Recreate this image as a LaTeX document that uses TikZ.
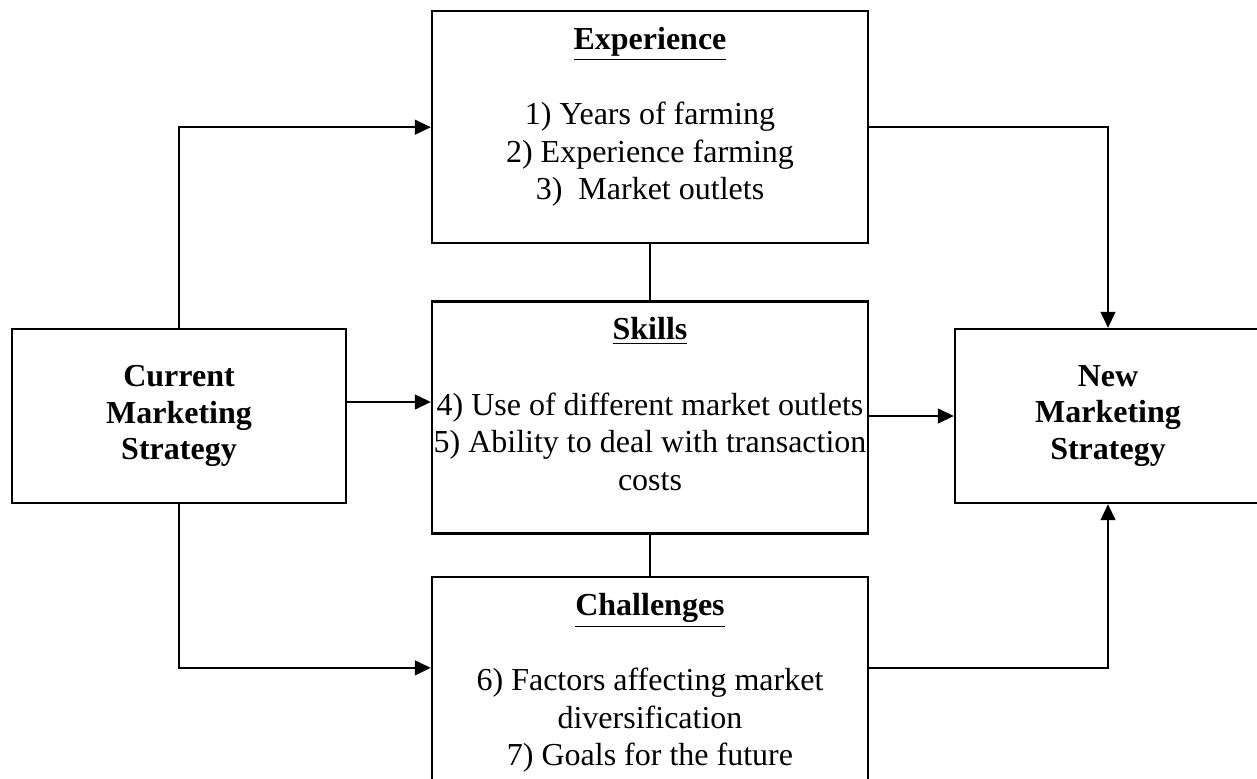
\documentclass[tikz,border=0pt]{standalone}
\usepackage{fontspec}
\setmainfont{Liberation Serif}
\usetikzlibrary{positioning, arrows.meta}

\newcommand{\boxbody}[1]{\parbox[c][87pt][t]{163.5pt}{\centering\vspace{6pt}#1}}

\begin{document}
\begin{tikzpicture}[font=\fontsize{12}{14.1}\selectfont]
    % Define block styles
    \tikzset{factor/.style={rectangle, draw=black, line width=0.9pt, inner sep=0pt, align=center}}
    \tikzset{strategy/.style={rectangle, draw=black, line width=0.9pt, minimum width=125.25pt, minimum height=65.25pt, align=center, font=\fontsize{12}{13.8}\selectfont\bfseries}}
    \tikzset{arrow/.style={line width=0.6pt, -{Triangle[length=6pt, width=5.6pt]}}}
    \tikzset{link/.style={line width=0.6pt}}

    \clip (0,0) rectangle (471.375pt,-291.75pt);

    % Nodes
    \node (exp) [factor, anchor=north] at (243.75pt,-3.75pt) {\boxbody{\textbf{\underline{Experience}}\\[14.1pt]
        1) Years of farming\\ 2) Experience farming\\ 3)\ \ Market outlets}};
    \node (skills) [factor, below=21pt of exp] {\boxbody{\textbf{\underline{Skills}}\\[14.1pt]
        4) Use of different market outlets\\ 5) Ability to deal with transaction\\ costs}};
    \node (chal) [factor, below=15.4pt of skills] {\boxbody{\textbf{\underline{Challenges}}\\[14.1pt]
        6) Factors affecting market\\ diversification\\ 7) Goals for the future}};
    \node (cms) [strategy] at (67.125pt,-156pt) {Current\\ Marketing\\ Strategy};
    \node (nms) [strategy, minimum width=114.75pt] at (415.5pt,-156pt) {New\\ Marketing\\ Strategy};

    \coordinate (chal-in) at ([yshift=-34.5pt]chal.north west);
    \coordinate (chal-out) at ([yshift=-34.5pt]chal.north east);

    % Arrows
    \draw [arrow] (cms.north) |- (exp.west);
    \draw [arrow] ([yshift=5.25pt]cms.east) -- ([yshift=5.25pt]cms.east -| skills.west);
    \draw [arrow] (cms.south) |- (chal-in);
    \draw [link] (exp.south) -- (skills.north);
    \draw [link] (skills.south) -- (chal.north);
    \draw [arrow] (exp.east) -| (nms.north);
    \draw [arrow] (nms.west -| skills.east) -- (nms.west);
    \draw [arrow] (chal-out) -| (nms.south);
\end{tikzpicture}
\end{document}
